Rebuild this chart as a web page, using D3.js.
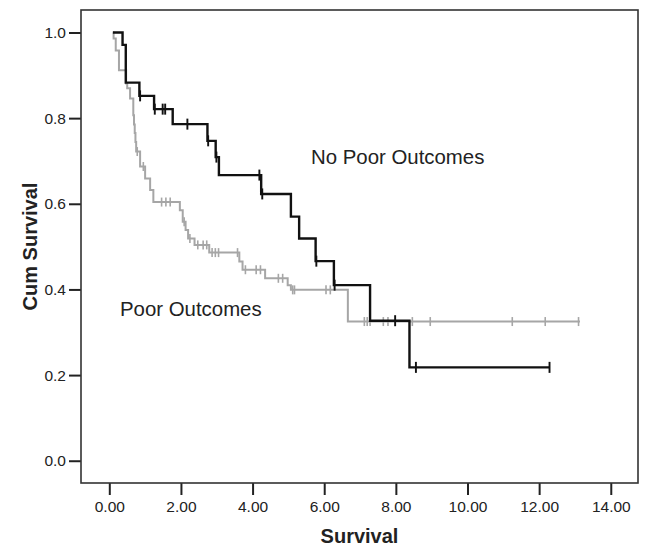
<!DOCTYPE html>
<html>
<head>
<meta charset="utf-8">
<script src="https://cdn.jsdelivr.net/npm/d3@7"></script>
<style>
  body { margin: 0; background: #fff; }
  text { font-family: "Liberation Sans", Arial, sans-serif; fill: #222; }
</style>
</head>
<body>
<div id="viz_div"></div>
<script>
// DATA
// ---------------------------------------------------------------------------------------------
const groups = ["No Poor Outcomes", "Poor Outcomes"];

// [time, survival after the drop]
const noPoorStart = [0.1, 1.0];
const noPoorDrops = [
  [0.37, 0.971], [0.46, 0.883], [0.84, 0.852], [1.25, 0.821], [1.77, 0.786],
  [2.74, 0.747], [2.97, 0.709], [3.06, 0.667], [4.24, 0.623], [5.07, 0.570],
  [5.30, 0.519], [5.76, 0.466], [6.27, 0.410], [7.28, 0.327], [8.38, 0.218]
];
const noPoorEnd = 12.29;
const noPoorCensored = [0.86, 1.27, 1.49, 1.56, 2.18, 2.76, 2.99, 4.19, 4.27, 5.78, 6.29, 7.98, 8.56, 12.29];

const poorStart = [0.1, 1.0];
const poorDrops = [
  [0.12, 0.986], [0.18, 0.958], [0.27, 0.912], [0.47, 0.881], [0.50, 0.870],
  [0.58, 0.846], [0.67, 0.807], [0.69, 0.785], [0.71, 0.765], [0.73, 0.744],
  [0.75, 0.722], [0.86, 0.687], [1.00, 0.659], [1.14, 0.632], [1.23, 0.604],
  [1.97, 0.585], [2.05, 0.558], [2.13, 0.539], [2.20, 0.519], [2.38, 0.504],
  [2.79, 0.486], [3.63, 0.465], [3.72, 0.446], [4.35, 0.426], [4.98, 0.410],
  [5.07, 0.399], [6.66, 0.325]
];
const poorEnd = 13.14;
const poorCensored = [0.78, 0.95, 1.46, 1.58, 1.70, 2.09, 2.25, 2.47, 2.62, 2.72, 2.87, 2.96, 3.05,
  3.58, 3.80, 4.10, 4.22, 4.72, 4.84, 5.12, 5.17, 6.05, 6.17, 7.12, 7.20, 7.28, 7.65, 7.78,
  8.46, 8.96, 11.25, 12.17, 13.10];

const xTicks = [0, 2, 4, 6, 8, 10, 12, 14];
const yTicks = [0, 0.2, 0.4, 0.6, 0.8, 1.0];

// LAYOUT + SCALES
// ---------------------------------------------------------------------------------------------
const W = 647, H = 546;
const margin = { top: 10, right: 9, bottom: 63, left: 81 };

const x = d3.scaleLinear([-0.79, 14.76], [margin.left, W - margin.right]);
const y = d3.scaleLinear([-0.052, 1.0525], [H - margin.bottom, margin.top]);

const svg = d3.select("#viz_div").append("svg")
  .attr("width", W)
  .attr("height", H);

// AXES
// ---------------------------------------------------------------------------------------------
const yAxis = svg.append("g")
  .attr("transform", `translate(${margin.left},0)`)
  .call(d3.axisLeft(y).tickValues(yTicks).tickFormat(d3.format(".1f")).tickSize(12).tickPadding(3));
yAxis.select(".domain").remove();
yAxis.selectAll("line").attr("stroke", "#222").attr("stroke-width", 2);
yAxis.selectAll("text").style("font-size", "15.5px").attr("fill", "#1a1a1a");

const xAxis = svg.append("g")
  .attr("transform", `translate(0,${H - margin.bottom})`)
  .call(d3.axisBottom(x).tickValues(xTicks).tickFormat(d3.format(".2f")).tickSize(12).tickPadding(6));
xAxis.select(".domain").remove();
xAxis.selectAll("line").attr("stroke", "#222").attr("stroke-width", 2);
xAxis.selectAll("text").style("font-size", "15.5px").attr("fill", "#1a1a1a");

// frame
svg.append("rect")
  .attr("x", margin.left)
  .attr("y", margin.top)
  .attr("width", W - margin.left - margin.right)
  .attr("height", H - margin.top - margin.bottom)
  .attr("fill", "none")
  .attr("stroke", "#333")
  .attr("stroke-width", 1.6);

// CURVES
// ---------------------------------------------------------------------------------------------
const line = d3.line()
  .x(d => x(d[0]))
  .y(d => y(d[1]))
  .curve(d3.curveStepAfter);

function drawCurve(start, drops, end, censored, color, width, half) {
  const pts = [start].concat(drops);
  pts.push([end, drops[drops.length - 1][1]]);

  svg.append("path")
    .datum(pts)
    .attr("fill", "none")
    .attr("stroke", color)
    .attr("stroke-width", width)
    .attr("d", line);

  const bis = d3.bisector(d => d[0]).right;
  const level = t => pts[Math.max(0, bis(pts, t) - 1)][1];

  svg.append("g").selectAll("line")
    .data(censored)
    .enter().append("line")
    .attr("x1", d => x(d)).attr("x2", d => x(d))
    .attr("y1", d => y(level(d)) - half)
    .attr("y2", d => y(level(d)) + half)
    .attr("stroke", color)
    .attr("stroke-width", width * 0.8);
}

drawCurve(poorStart, poorDrops, poorEnd, poorCensored, "#a6a6a6", 2, 4.5);
drawCurve(noPoorStart, noPoorDrops, noPoorEnd, noPoorCensored, "#111", 2.4, 5.5);

// LABELS
// ---------------------------------------------------------------------------------------------
svg.append("text")
  .attr("x", 311).attr("y", 164)
  .style("font-size", "20.4px")
  .text(groups[0]);

svg.append("text")
  .attr("x", 120).attr("y", 316)
  .style("font-size", "20.4px")
  .text(groups[1]);

svg.append("text")
  .attr("text-anchor", "middle")
  .attr("x", (margin.left + W - margin.right) / 2)
  .attr("y", 543)
  .style("font-size", "20px")
  .style("font-weight", "bold")
  .attr("fill", "#111")
  .text("Survival");

svg.append("text")
  .attr("text-anchor", "middle")
  .attr("transform", `translate(37,${(margin.top + H - margin.bottom) / 2}) rotate(-90)`)
  .style("font-size", "20px")
  .style("font-weight", "bold")
  .attr("fill", "#111")
  .text("Cum Survival");
</script>
</body>
</html>
